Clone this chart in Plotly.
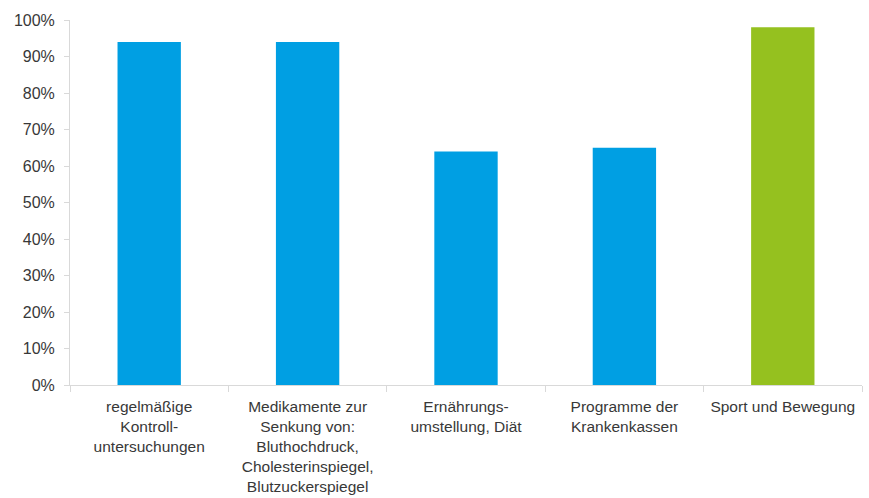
import plotly.graph_objects as go

categories = [
    "regelmäßige<br>Kontroll-<br>untersuchungen",
    "Medikamente zur<br>Senkung von:<br>Bluthochdruck,<br>Cholesterinspiegel,<br>Blutzuckerspiegel",
    "Ernährungs-<br>umstellung, Diät",
    "Programme der<br>Krankenkassen",
    "Sport und Bewegung",
]
values = [0.94, 0.94, 0.64, 0.65, 0.98]
colors = ["#009FE3", "#009FE3", "#009FE3", "#009FE3", "#95C11F"]

fig = go.Figure(go.Bar(x=categories, y=values, marker=dict(color=colors, line=dict(width=0))))

fig.update_layout(
    width=869, height=498,
    margin=dict(l=70, r=7, t=20, b=113),
    plot_bgcolor="white", paper_bgcolor="white",
    bargap=0.6,
    showlegend=False,
    font=dict(family="Liberation Sans, Arial, sans-serif", size=16, color="#383838"),
)
fig.update_yaxes(
    range=[0, 1], dtick=0.1, tickformat=".0%",
    showgrid=False, zeroline=False,
    showline=True, linecolor="#D9D9D9", linewidth=1,
    ticks="outside", ticklen=5, tickcolor="#D9D9D9",
    ticklabelstandoff=6,
    automargin=False,
)
fig.update_xaxes(
    showgrid=False, showline=True, linecolor="#D9D9D9", linewidth=1,
    ticks="outside", tickson="boundaries", ticklen=6, tickcolor="#D9D9D9",
    ticklabelstandoff=7, tickfont=dict(size=15.5),
    automargin=False, tickangle=0,
)

fig.write_html("out.html")
